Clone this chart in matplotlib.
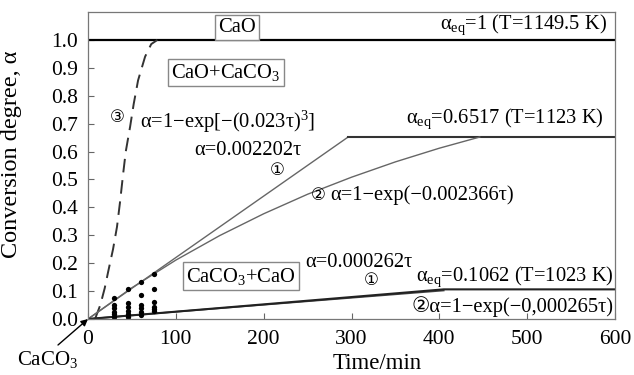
import matplotlib
matplotlib.use('Agg')
import matplotlib.pyplot as plt

plt.rcParams['font.family'] = ['Liberation Serif', 'DejaVu Serif', 'DejaVu Sans']
plt.rcParams['mathtext.fontset'] = 'custom'
plt.rcParams['mathtext.rm'] = 'Liberation Serif'
plt.rcParams['mathtext.it'] = 'Liberation Serif:italic'

# equilibrium levels
alpha_eq_high = 1.0
alpha_eq_mid = 0.6517
alpha_eq_low = 0.1062

# curve 3 (dashed)
tau_3 = [8, 14, 19, 23, 28.5, 33, 36.5, 40, 43, 48, 52, 57, 65, 72, 79]
alpha_3 = [0.0, 0.05, 0.11, 0.17, 0.25, 0.33, 0.42, 0.52, 0.60, 0.69, 0.77, 0.855, 0.94, 0.985, 1.0]

# T=1123 K: linear (1) and exponential (2)
tau_mid_1 = [0, 296, 600]
alpha_mid_1 = [0.0, 0.6517, 0.6517]
tau_mid_2 = [0, 50, 100, 150, 200, 250, 300, 350, 400, 446]
alpha_mid_2 = [0.0, 0.112, 0.211, 0.299, 0.377, 0.447, 0.508, 0.563, 0.612, 0.652]

# T=1023 K
tau_low_1 = [0, 405, 600]
alpha_low_1 = [0.0, 0.1062, 0.1062]
tau_low_2 = [0, 100, 200, 300, 405]
alpha_low_2 = [0.0, 0.026, 0.051, 0.076, 0.102]

# measured points
tau_pts = [30] * 6 + [45] * 6 + [60] * 6 + [75] * 6
alpha_pts = [0.075, 0.05, 0.04, 0.026, 0.018, 0.008,
             0.107, 0.057, 0.043, 0.028, 0.018, 0.008,
             0.132, 0.086, 0.05, 0.04, 0.026, 0.016,
             0.161, 0.107, 0.061, 0.043, 0.035, 0.027]

fig = plt.figure(figsize=(6.34, 3.75), dpi=100)
ax = fig.add_axes([88 / 634, 1 - 319 / 375, 527 / 634, 307 / 375])

ax.plot([0, 600], [alpha_eq_high, alpha_eq_high], color='black', lw=1.6)
ax.plot(tau_3, alpha_3, color='#333333', lw=1.4, ls=(0, (7, 4)))
ax.plot(tau_mid_1[:2], alpha_mid_1[:2], color='#666666', lw=1.0)
ax.plot(tau_mid_1[1:], alpha_mid_1[1:], color='#333333', lw=1.5)
ax.plot(tau_mid_2, alpha_mid_2, color='#666666', lw=1.0)
ax.plot(tau_low_2, alpha_low_2, color='#444444', lw=1.2)
ax.plot(tau_low_1, alpha_low_1, color='#222222', lw=1.5)
ax.plot(tau_pts, alpha_pts, 'o', color='black', ms=3.8, mec='none')

ax.set_xlim(0, 600)
ax.set_ylim(0, 1.1)
ax.set_xticks(range(0, 601, 100))
ax.set_yticks([i / 10 for i in range(11)])
ax.set_yticklabels(['%.1f' % (i / 10) for i in range(11)])
ax.tick_params(direction='in', length=4, color='#666666', labelsize=15.5, pad=7)
ax.tick_params(axis='x', pad=8)
for sp in ax.spines.values():
    sp.set_color('#777777')
    sp.set_linewidth(0.9)

ax.set_xlabel('Time/min', fontsize=16.5)
ax.xaxis.set_label_coords((377 - 88) / 527, -0.11)
ax.set_ylabel('Conversion degree, α', fontsize=17.5)
ax.yaxis.set_label_coords(-0.125, (319 - 154) / 307)

box = dict(boxstyle='square,pad=0.15', fc='white', ec='#888888', lw=1)
fs = 14.8
cfs = 12
ax.text(170, 1.045, 'CaO', fontsize=fs, ha='center', va='center', bbox=box)
ax.text(591, 1.055, 'α$_{\\rm eq}$=1 (T=1149.5 K)', fontsize=fs, ha='right', va='center')
ax.text(157, 0.884, 'CaO+CaCO$_3$', fontsize=fs, ha='center', va='center', bbox=box)
ax.text(33, 0.723, '③', fontsize=cfs, ha='center', va='center', family='DejaVu Sans')
ax.text(59, 0.705, 'α=1−exp[−(0.023τ)$^3$]', fontsize=fs, ha='left', va='center')
ax.text(182, 0.605, 'α=0.002202τ', fontsize=fs, ha='center', va='center')
ax.text(215, 0.533, '①', fontsize=cfs, ha='center', va='center', family='DejaVu Sans')
ax.text(587, 0.719, 'α$_{\\rm eq}$=0.6517 (T=1123 K)', fontsize=fs, ha='right', va='center')
ax.text(262, 0.444, '②', fontsize=cfs, ha='center', va='center', family='DejaVu Sans')
ax.text(276, 0.444, 'α=1−exp(−0.002366τ)', fontsize=fs, ha='left', va='center')
ax.text(174, 0.154, 'CaCO$_3$+CaO', fontsize=fs, ha='center', va='center', bbox=box)
ax.text(247, 0.204, 'α=0.000262τ', fontsize=fs, ha='left', va='center')
ax.text(323, 0.14, '①', fontsize=cfs, ha='center', va='center', family='DejaVu Sans')
ax.text(598, 0.15, 'α$_{\\rm eq}$=0.1062 (T=1023 K)', fontsize=fs, ha='right', va='center')
ax.text(598, 0.043, '②α=1−exp(−0,000265τ)', fontsize=fs, ha='right', va='center')

ax.annotate('', xy=(0, 0), xytext=(58 / 634, 1 - 345 / 375), textcoords='figure fraction',
            arrowprops=dict(arrowstyle='-|>', color='black', lw=1, mutation_scale=10,
                            shrinkA=0, shrinkB=0), annotation_clip=False)
fig.text(48 / 634, 1 - 359 / 375, 'CaCO$_3$', fontsize=15, ha='center', va='center')

fig.savefig('out.png', dpi=100)
